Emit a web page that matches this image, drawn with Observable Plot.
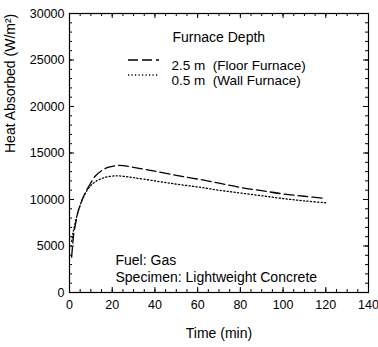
<!DOCTYPE html>
<html>
<head>
<meta charset="utf-8">
<script src="https://cdn.jsdelivr.net/npm/d3@7"></script>
<script src="https://cdn.jsdelivr.net/npm/@observablehq/plot@0.6"></script>
<style>
  html, body { margin: 0; padding: 0; background: #fff; }
  svg text { white-space: pre; }
</style>
</head>
<body>
<div id="chart"></div>
<script>
// ---- data ----
const seriesNames = ["2.5 m  (Floor Furnace)", "0.5 m  (Wall Furnace)"];
const timeFloor = [1, 1.5, 2, 3, 4, 5, 6, 8, 10, 12, 15, 18, 22, 25, 30, 35, 40, 50, 60, 70, 80, 90, 100, 110, 120];
const heatFloor = [3800, 5200, 6300, 7600, 8700, 9400, 10000, 11000, 11800, 12500, 13100, 13450, 13650, 13650, 13450, 13250, 13050, 12600, 12200, 11750, 11300, 10950, 10600, 10350, 10100];
const timeWall = [1, 1.5, 2, 3, 4, 5, 6, 8, 10, 12, 15, 18, 22, 25, 30, 40, 50, 60, 70, 80, 90, 100, 110, 120];
const heatWall = [5500, 6200, 6800, 7800, 8700, 9400, 10000, 10900, 11500, 11900, 12250, 12450, 12550, 12500, 12350, 12000, 11650, 11350, 11000, 10700, 10400, 10100, 9850, 9650];
const xTicks = [0, 20, 40, 60, 80, 100, 120, 140];
const yTicks = [0, 5000, 10000, 15000, 20000, 25000, 30000];
const xMinor = d3.range(0, 141, 5);
const yMinor = d3.range(0, 30001, 1000);
const legendTitle = "Furnace Depth";
const notes = ["Fuel: Gas", "Specimen: Lightweight Concrete"];

const floor = timeFloor.map((t, i) => ({t, v: heatFloor[i], s: seriesNames[0]}));
const wall = timeWall.map((t, i) => ({t, v: heatWall[i], s: seriesNames[1]}));

const W = 378, H = 347;
const mL = 69, mR = 10, mT = 13, mB = 55;
const fw = W - mL - mR, fh = H - mT - mB;
const font = "'Liberation Sans', Arial, Helvetica, sans-serif";

function legendSample(dy, dash) {
  return (index, scales, values, dims) => {
    return d3.create("svg:line")
      .attr("x1", dims.marginLeft + 59).attr("x2", dims.marginLeft + 90)
      .attr("y1", dims.marginTop + dy).attr("y2", dims.marginTop + dy)
      .attr("stroke", "black").attr("stroke-width", 1.3)
      .attr("stroke-dasharray", dash).node();
  };
}

const chart = Plot.plot({
  width: W, height: H,
  marginLeft: mL, marginRight: mR, marginTop: mT, marginBottom: mB,
  style: {fontFamily: font, fontSize: "12px", color: "black", background: "white"},
  x: {domain: [0, 140]},
  y: {domain: [0, 30000]},
  marks: [
    Plot.frame({stroke: "black", strokeWidth: 1.2}),
    // minor ticks (inward, all sides)
    Plot.ruleX(xMinor, {stroke: "black", insetTop: fh - 3}),
    Plot.ruleX(xMinor, {stroke: "black", insetBottom: fh - 3}),
    Plot.ruleY(yMinor, {stroke: "black", insetRight: fw - 3}),
    Plot.ruleY(yMinor, {stroke: "black", insetLeft: fw - 3}),
    // major ticks
    Plot.ruleX(xTicks, {stroke: "black", insetTop: fh - 5}),
    Plot.ruleX(xTicks, {stroke: "black", insetBottom: fh - 5}),
    Plot.ruleY(yTicks, {stroke: "black", insetRight: fw - 5}),
    Plot.ruleY(yTicks, {stroke: "black", insetLeft: fw - 5}),
    Plot.axisX(xTicks, {tickSize: 0, tickPadding: 8, label: null, fontSize: 12.5, tickFormat: d3.format("d")}),
    Plot.axisY(yTicks, {tickSize: 0, tickPadding: 5, label: null, fontSize: 12.5, tickFormat: d3.format("d")}),
    Plot.line(floor, {x: "t", y: "v", stroke: "black", strokeWidth: 1.3, strokeDasharray: "10,4", curve: "catmull-rom"}),
    Plot.line(wall, {x: "t", y: "v", stroke: "black", strokeWidth: 1.3, strokeDasharray: "1.2,2.3", curve: "catmull-rom"}),
    // axis titles
    Plot.text(["Time (min)"], {text: d => d, frameAnchor: "bottom", dy: 45, fontSize: 14}),
    Plot.text(["Heat Absorbed (W/m²)"], {text: d => d, frameAnchor: "left", dx: -59, rotate: -90, fontSize: 14}),
    // legend
    Plot.text([legendTitle], {text: d => d, frameAnchor: "top-left", textAnchor: "start", dx: 103, dy: 19, fontSize: 14}),
    Plot.text([seriesNames[0]], {text: d => d, frameAnchor: "top-left", textAnchor: "start", dx: 102, dy: 47, fontSize: 13.5}),
    Plot.text([seriesNames[1]], {text: d => d, frameAnchor: "top-left", textAnchor: "start", dx: 102, dy: 62, fontSize: 13.5}),
    legendSample(47, "10,4"),
    legendSample(62, "1.2,2.3"),
    // notes
    Plot.text([notes[0]], {text: d => d, frameAnchor: "top-left", textAnchor: "start", dx: 46, dy: 242, fontSize: 14}),
    Plot.text([notes[1]], {text: d => d, frameAnchor: "top-left", textAnchor: "start", dx: 46, dy: 259, fontSize: 14})
  ]
});
document.getElementById("chart").appendChild(chart);
</script>
</body>
</html>
